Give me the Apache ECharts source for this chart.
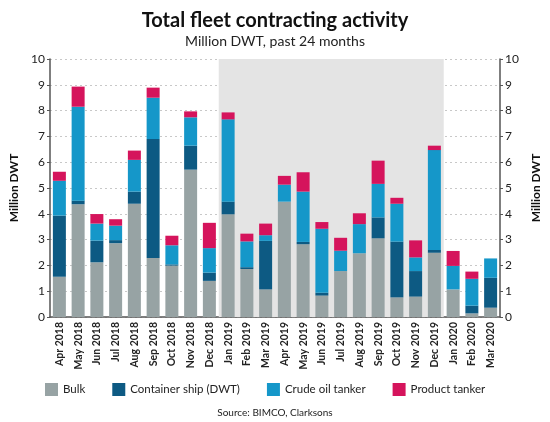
<!DOCTYPE html>
<html>
<head>
<meta charset="utf-8">
<script src="https://cdn.jsdelivr.net/npm/echarts@6/dist/echarts.min.js"></script>
<style>
html,body{margin:0;padding:0;background:#fff;}
#c{width:550px;height:422px;}
</style>
</head>
<body>
<div id="c"></div>
<script>
var categories = ['Apr 2018','May 2018','Jun 2018','Jul 2018','Aug 2018','Sep 2018','Oct 2018','Nov 2018','Dec 2018',
  'Jan 2019','Feb 2019','Mar 2019','Apr 2019','May 2019','Jun 2019','Jul 2019','Aug 2019','Sep 2019','Oct 2019','Nov 2019','Dec 2019',
  'Jan 2020','Feb 2020','Mar 2020'];
var bulk      = [1.56,4.37,2.12,2.86,4.39,2.29,1.99,5.71,1.40, 3.98,1.86,1.07,4.47,2.82,0.83,1.78,2.47,3.05,0.76,0.79,2.49, 1.07,0.14,0.36];
var container = [2.37,0.14,0.84,0.12,0.47,4.61,0.05,0.93,0.32, 0.49,0.07,1.88,0.00,0.09,0.11,0.00,0.00,0.81,2.16,0.99,0.11, 0.00,0.30,1.16];
var crude     = [1.35,3.64,0.66,0.56,1.23,1.60,0.74,1.10,0.95, 3.19,1.00,0.22,0.66,1.95,2.48,0.79,1.13,1.30,1.47,0.53,3.87, 0.91,1.04,0.75];
var product   = [0.35,0.78,0.37,0.25,0.36,0.39,0.37,0.23,0.98, 0.27,0.30,0.45,0.34,0.75,0.26,0.50,0.42,0.90,0.23,0.66,0.17, 0.58,0.28,0.00];
var yTicks = [0,1,2,3,4,5,6,7,8,9,10];
var shadeFrom = 'Jan 2019', shadeTo = 'Dec 2019';

var FONT = 'Lato';
var chart = echarts.init(document.getElementById('c'), null, {renderer:'canvas'});
function mk(name, data, color) {
  return {name:name, type:'bar', stack:'t', data:data, barWidth:13,
    itemStyle:{color:color}, emphasis:{disabled:true}};
}
var s0 = mk('Bulk', bulk, '#97a3a4');
s0.markArea = {silent:true, itemStyle:{color:'#e4e4e4'}, data:[[{xAxis:shadeFrom, yAxis:10},{xAxis:shadeTo, yAxis:0}]]};
function yFmt(v){return yTicks.indexOf(v)>=0?String(v):'';}
chart.setOption({
  animation:false,
  textStyle:{fontFamily:FONT},
  title:[
    {text:'Total fleet contracting activity', left:'center', top:6,
     textStyle:{fontFamily:FONT, fontSize:20, fontWeight:'bold', color:'#111'}},
    {text:'Million DWT, past 24 months', left:'center', top:29,
     textStyle:{fontFamily:FONT, fontSize:14, fontWeight:'normal', color:'#222'}},
    {text:'Source: BIMCO, Clarksons', left:'center', top:403,
     textStyle:{fontFamily:FONT, fontSize:10, fontWeight:'normal', color:'#222'}}
  ],
  legend:{left:40, top:378, itemWidth:13, itemHeight:13, itemGap:27, icon:'rect',
    textStyle:{fontFamily:FONT, fontSize:11.5, color:'#222'},
    data:['Bulk','Container ship (DWT)','Crude oil tanker','Product tanker']},
  grid:{left:45, right:47, top:59, bottom:105},
  xAxis:{type:'category', data:categories,
    axisLine:{lineStyle:{color:'#555', width:1.5}}, axisTick:{show:false},
    axisLabel:{rotate:90, fontSize:10.5, color:'#222', fontWeight:'bold', margin:5, interval:0}},
  yAxis:[
    {type:'value', min:0, max:10, interval:1, position:'left',
     name:'Million DWT', nameLocation:'middle', nameGap:30, nameRotate:90,
     nameTextStyle:{fontFamily:FONT, fontSize:12, fontWeight:'bold', color:'#111'},
     axisLine:{show:true, lineStyle:{color:'#555', width:1.5}},
     axisTick:{show:true, length:3, lineStyle:{color:'#555'}},
     axisLabel:{fontSize:12, color:'#222', margin:5, formatter:yFmt},
     splitLine:{show:true, lineStyle:{color:'#c8c8c8', type:[2,3], width:1}}},
    {type:'value', min:0, max:10, interval:1, position:'right',
     name:'Million DWT', nameLocation:'middle', nameGap:30, nameRotate:90,
     nameTextStyle:{fontFamily:FONT, fontSize:12, fontWeight:'bold', color:'#111'},
     axisLine:{show:true, lineStyle:{color:'#555', width:1.5}},
     axisTick:{show:true, length:3, lineStyle:{color:'#555'}},
     axisLabel:{fontSize:12, color:'#222', margin:5, formatter:yFmt},
     splitLine:{show:false}}
  ],
  series:[
    s0,
    mk('Container ship (DWT)', container, '#0d5a83'),
    mk('Crude oil tanker', crude, '#1597c9'),
    mk('Product tanker', product, '#d5145c')
  ]
});
</script>
</body>
</html>
